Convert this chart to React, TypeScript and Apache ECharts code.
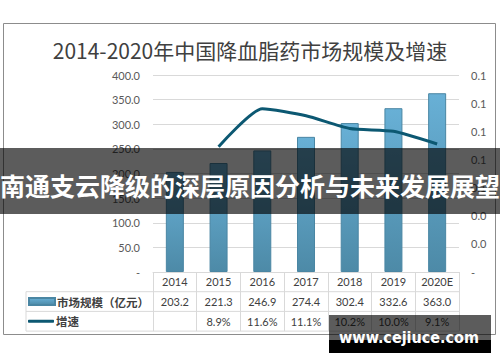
import React, { useEffect, useRef } from "react";
import * as echarts from "echarts";

const titleText = "2014-2020年中国降血脂药市场规模及增速";
const categories = ["2014", "2015", "2016", "2017", "2018", "2019", "2020E"];
const marketSize = [203.2, 221.3, 246.9, 274.4, 302.4, 332.6, 363.0];
const growth: (number | null)[] = [null, 0.089, 0.116, 0.111, 0.102, 0.1, 0.091];
const seriesNames = ["市场规模（亿元）", "增速"];
const bannerText = "南通支云降级的深层原因分析与未来发展展望";
const watermarkText = "www.cejiuce.com";

const W = 500;
const H = 362;
const GRID_LEFT = 153;
const GRID_RIGHT_X = 459;
const GRID_TOP = 75;
const AXIS_Y = 272;
const ROW_H = 19.7;
const TABLE_LEFT = 26;

export default function App() {
  const ref = useRef<HTMLDivElement>(null);
  useEffect(() => {
    if (!ref.current) return;
    const chart = echarts.init(ref.current, null, { renderer: "svg" });
    const fmtPct = (g: number | null) => (g == null ? " " : (g * 100).toFixed(1) + "%");
    const lineCol = "#d9d9d9";
    const rowLines = [1, 2, 3].map((k) => ({
      type: "line",
      z: 5,
      shape: { x1: TABLE_LEFT, y1: AXIS_Y + ROW_H * k, x2: GRID_RIGHT_X, y2: AXIS_Y + ROW_H * k },
      style: { stroke: lineCol, lineWidth: 1 },
    }));
    const legendText = {
      fontSize: 11.5,
      fontWeight: "bold",
      color: "#404040",
      lineHeight: ROW_H,
      fontFamily: "Noto Sans CJK SC",
      padding: [0, 0, 0, -3],
    };
    chart.setOption({
      animation: false,
      backgroundColor: "#ffffff",
      title: {
        text: titleText,
        left: "center",
        top: 34,
        textStyle: { fontSize: 21, fontWeight: "normal", color: "#404040", fontFamily: "Noto Sans CJK SC" },
      },
      legend: [
        {
          orient: "vertical",
          left: 28,
          top: AXIS_Y + ROW_H,
          padding: 0,
          itemWidth: 26,
          itemHeight: 7,
          icon: "rect",
          data: [seriesNames[0]],
          textStyle: legendText,
        },
        {
          orient: "vertical",
          left: 28,
          top: AXIS_Y + ROW_H * 2,
          padding: 0,
          itemWidth: 26,
          itemHeight: 3,
          icon: "roundRect",
          data: [seriesNames[1]],
          textStyle: legendText,
        },
      ],
      grid: { left: GRID_LEFT, right: W - GRID_RIGHT_X, top: GRID_TOP, bottom: H - AXIS_Y },
      xAxis: {
        type: "category",
        data: categories,
        axisLine: { lineStyle: { color: lineCol } },
        axisTick: { show: true, length: ROW_H * 3, alignWithLabel: false, interval: 0, lineStyle: { color: lineCol } },
        axisLabel: {
          interval: 0,
          margin: 0,
          fontSize: 11,
          lineHeight: ROW_H,
          color: "#404040",
          fontFamily: "Lato",
          formatter: (v: string, i: number) => `${v}\n${marketSize[i].toFixed(1)}\n${fmtPct(growth[i])}`,
        },
      },
      yAxis: [
        {
          type: "value",
          min: 0,
          max: 400,
          interval: 50,
          axisLine: { show: false },
          axisTick: { show: false },
          splitLine: { lineStyle: { color: lineCol } },
          axisLabel: {
            margin: 13,
            fontSize: 11,
            color: "#595959",
            fontFamily: "Lato",
            formatter: (v: number) => (v === 0 ? "-" : v.toFixed(1)),
          },
        },
        {
          type: "value",
          min: 0,
          max: 0.14,
          interval: 0.02,
          axisLine: { show: false },
          axisTick: { show: false },
          splitLine: { show: false },
          axisLabel: {
            margin: 12,
            fontSize: 11,
            color: "#595959",
            fontFamily: "Lato",
            formatter: (v: number) => (v === 0 ? "-" : v.toFixed(1)),
          },
        },
      ],
      series: [
        {
          name: seriesNames[0],
          type: "bar",
          yAxisIndex: 0,
          barWidth: 18,
          data: marketSize,
          itemStyle: {
            color: new echarts.graphic.LinearGradient(0, 0, 0, 1, [
              { offset: 0, color: "#68b0d6" },
              { offset: 1, color: "#4d8aa7" },
            ]),
            borderColor: "#4a86a3",
            borderWidth: 1,
          },
        },
        {
          name: seriesNames[1],
          type: "line",
          yAxisIndex: 1,
          data: growth,
          symbol: "none",
          smooth: 0.2,
          lineStyle: { color: "#0c5872", width: 3 },
          itemStyle: { color: "#0c5872" },
        },
      ],
      graphic: [
        {
          type: "rect",
          z: 1,
          shape: { x: 3.5, y: 23.5, width: 492, height: 311 },
          style: { fill: "none", stroke: "#8c8c8c", lineWidth: 1 },
        },
        ...rowLines,
        {
          type: "line",
          z: 5,
          shape: { x1: TABLE_LEFT, y1: AXIS_Y + ROW_H, x2: TABLE_LEFT, y2: AXIS_Y + ROW_H * 3 },
          style: { stroke: lineCol, lineWidth: 1 },
        },
        {
          type: "rect",
          z: 100,
          shape: { x: 0, y: 148, width: W, height: 66 },
          style: { fill: "rgba(0,0,0,0.64)" },
        },
        {
          type: "text",
          z: 101,
          x: 0,
          y: 185,
          style: {
            text: bannerText,
            fill: "#ffffff",
            fontSize: 25,
            fontWeight: "bold",
            fontFamily: "Noto Sans CJK SC",
            verticalAlign: "middle",
            align: "left",
          },
        },
        {
          type: "rect",
          z: 100,
          shape: { x: 329, y: 315, width: 162, height: 25 },
          style: { fill: "rgba(0,0,0,0.64)" },
        },
        {
          type: "rect",
          z: 100,
          shape: { x: 329, y: 340, width: 162, height: 13 },
          style: { fill: "#000000" },
        },
        {
          type: "text",
          z: 101,
          x: 409,
          y: 337,
          style: {
            text: watermarkText,
            fill: "#ffffff",
            fontSize: 16,
            fontWeight: "bold",
            fontFamily: '"DejaVu Sans Condensed", "DejaVu Sans"',
            verticalAlign: "middle",
            align: "center",
          },
        },
      ],
    });
    return () => chart.dispose();
  }, []);
  return <div ref={ref} style={{ position: "absolute", left: 0, top: 0, width: W, height: H }} />;
}
